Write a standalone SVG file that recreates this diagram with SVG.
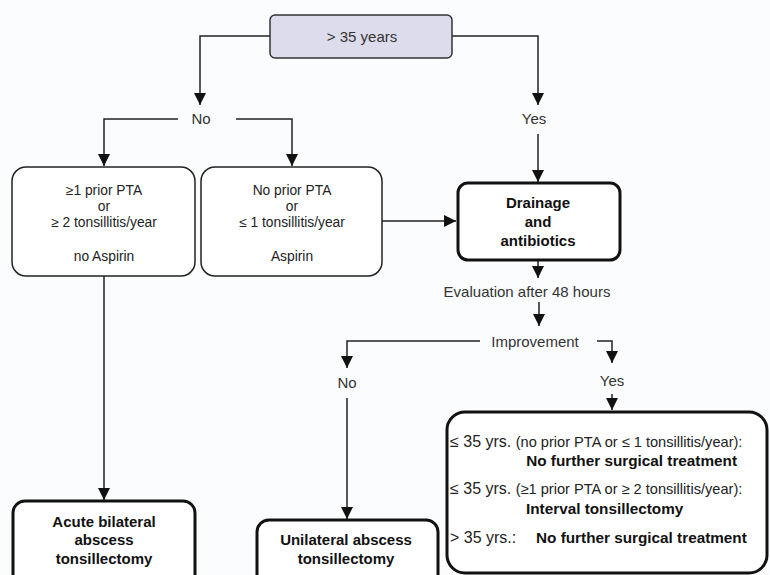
<svg xmlns="http://www.w3.org/2000/svg" width="770" height="575" viewBox="0 0 770 575">
<defs>
<marker id="ah" markerWidth="12" markerHeight="12" refX="12" refY="6" orient="auto" markerUnits="userSpaceOnUse">
<path d="M0,0 L12,6 L0,12 z" fill="#111"/>
</marker>
<style>
text{font-family:"Liberation Sans",Arial,sans-serif;fill:#222;}
.t{font-size:13.8px;text-anchor:middle;}
.b{font-size:15px;font-weight:bold;text-anchor:middle;fill:#111;}
.s{font-size:14.6px;}
.l{font-size:16px;}
.lab{font-size:15px;text-anchor:middle;fill:#333;}
.thin{fill:#fff;stroke:#222;stroke-width:1.5;}
.thick{fill:#fff;stroke:#111;stroke-width:3;}
.c{fill:none;stroke:#222;stroke-width:1.5;marker-end:url(#ah);}
</style>
</defs>
<rect x="0" y="0" width="770" height="575" fill="#fbfcfd"/>

<g id="connectors">
<path class="c" d="M270,36 H200 V105"/>
<path class="c" d="M178,119 H104 V166"/>
<path class="c" d="M236,119 H292 V166"/>
<path class="c" d="M452,36 H538 V105"/>
<path class="c" d="M538,134 V182"/>
<path class="c" d="M382,221 H456"/>
<path class="c" d="M538,260 V278"/>
<path class="c" d="M539,302 V326"/>
<path class="c" d="M480,341 H347 V368"/>
<path class="c" d="M347,398 V519"/>
<path class="c" d="M597,341 H612 V363"/>
<path class="c" d="M612,394 V410"/>
<path class="c" d="M104,276 V500"/>
<text class="lab" x="201" y="124">No</text>
<text class="lab" x="534" y="124">Yes</text>
<text class="lab" x="527" y="297">Evaluation after 48 hours</text>
<text class="lab" x="535" y="347">Improvement</text>
<text class="lab" x="347" y="388">No</text>
<text class="lab" x="612" y="386">Yes</text>
</g>

<g id="n-age">
<rect x="270" y="15" width="182" height="43" rx="5" fill="#dcdcec" stroke="#333" stroke-width="1.5"/>
<text class="lab" x="362" y="42">&gt; 35 years</text>
</g>

<g id="n-prior">
<rect class="thin" x="12" y="167" width="183" height="109" rx="14"/>
<text class="t" x="104" y="195">≥1 prior PTA</text>
<text class="t" x="104" y="211">or</text>
<text class="t" x="104" y="227">≥ 2 tonsillitis/year</text>
<text class="t" x="104" y="261">no Aspirin</text>
</g>

<g id="n-noprior">
<rect class="thin" x="201" y="167" width="181" height="109" rx="14"/>
<text class="t" x="292" y="195">No prior PTA</text>
<text class="t" x="292" y="211">or</text>
<text class="t" x="292" y="227">≤ 1 tonsillitis/year</text>
<text class="t" x="292" y="261">Aspirin</text>
</g>

<g id="n-drainage">
<rect class="thick" x="458" y="183" width="162" height="77" rx="10"/>
<text class="b" x="538" y="208">Drainage</text>
<text class="b" x="538" y="227">and</text>
<text class="b" x="538" y="246">antibiotics</text>
</g>

<g id="n-acute">
<rect class="thick" x="13" y="501" width="182" height="90" rx="12"/>
<text class="b" x="104" y="527">Acute bilateral</text>
<text class="b" x="104" y="545">abscess</text>
<text class="b" x="104" y="564">tonsillectomy</text>
</g>

<g id="n-unilateral">
<rect class="thick" x="257" y="520" width="181" height="70" rx="12"/>
<text class="b" x="346" y="545">Unilateral abscess</text>
<text class="b" x="346" y="564">tonsillectomy</text>
</g>

<g id="n-outcome">
<rect class="thick" x="447" y="412" width="320" height="161" rx="18"/>
<text x="450" y="447"><tspan class="l">≤ 35 yrs. </tspan><tspan class="s">(no prior PTA or ≤ 1 tonsillitis/year):</tspan></text>
<text class="b" x="737" y="466" style="text-anchor:end;font-size:15.3px">No further surgical treatment</text>
<text x="450" y="494"><tspan class="l">≤ 35 yrs. </tspan><tspan class="s">(≥1 prior PTA or ≥ 2 tonsillitis/year):</tspan></text>
<text class="b" x="526" y="514" style="text-anchor:start;font-size:15.3px">Interval tonsillectomy</text>
<text x="450" y="543"><tspan class="l">&gt; 35 yrs.: </tspan><tspan x="536" style="font-size:15.3px;font-weight:bold;fill:#111">No further surgical treatment</tspan></text>
</g>
</svg>
